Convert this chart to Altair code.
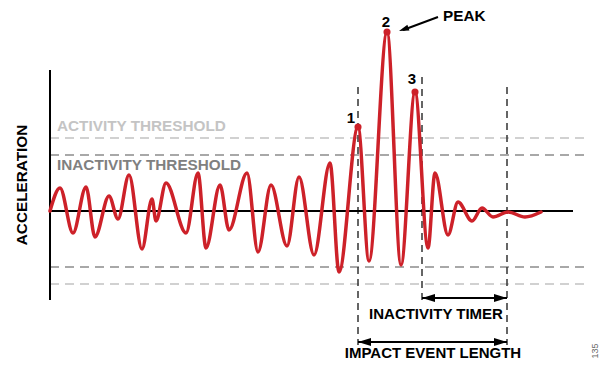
import altair as alt
import pandas as pd

# ---- waveform extrema (time, acceleration) ----
wave_t = [50, 60, 73, 86, 95, 109, 118, 129, 142, 152, 156, 166, 186, 198, 206, 220,
          229, 247, 258, 271, 287, 299, 314, 330, 339, 358, 369, 387, 401, 415, 428,
          435, 448, 458, 472, 482, 493, 508, 525, 541]
wave_a = [0, 23, -22, 24, -26, 15, -8, 36, -38, 12, -10, 28, -22, 38, -37, 26,
          -19, 38, -41, 26, -35, 34, -44, 48, -61, 84, -50, 179, -54, 119, -37,
          38, -24, 9, -10, 3, -6, -1, -6, -1]

# marked peaks
peak_t = [358, 387, 415]
peak_a = [84, 179, 119]
peak_lbl = ["1", "2", "3"]
peak_lbl_t = [351, 386, 412]
peak_lbl_a = [93, 189, 132]

# thresholds
act_thr = 73
inact_thr = 56
thr_start, thr_end = 50, 590

# axis extents
axis_t = 50
axis_top, axis_bottom = 141, -89
base_end = 573

# event markers
ev_t = [358, 422, 507]
ev_top = [124, 134, 124]
ev_bottom = [-134, -92, -134]

# arrows
timer_t = [422, 507]
timer_a = -87
impact_t = [358, 507]
impact_a = -131

RED = "#cd2129"
FONT = "Liberation Sans"

xs = alt.Scale(domain=[8, 600], nice=False, zero=False)
ys = alt.Scale(domain=[-150, 203], nice=False, zero=False)


def X(f, t="Q"):
    return alt.X(f"{f}:{t}", scale=xs, axis=None)


def Y(f, t="Q"):
    return alt.Y(f"{f}:{t}", scale=ys, axis=None)


# thresholds
thr = pd.DataFrame({
    "a": [act_thr, -act_thr, inact_thr, -inact_thr],
    "t1": [thr_start] * 4,
    "t2": [thr_end] * 4,
    "c": ["#c2c2c2", "#c2c2c2", "#8c8c8c", "#8c8c8c"],
})
thr_layer = alt.Chart(thr).mark_rule(strokeWidth=1.5, strokeDash=[9, 6]).encode(
    x=X("t1"), x2="t2", y=Y("a"), color=alt.Color("c:N", scale=None)
)

# axes
axis_df = pd.DataFrame({"t": [axis_t], "a1": [axis_top], "a2": [axis_bottom]})
axis_layer = alt.Chart(axis_df).mark_rule(strokeWidth=2, color="black").encode(
    x=X("t"), y=Y("a1"), y2="a2"
)
base_df = pd.DataFrame({"t1": [axis_t], "t2": [base_end], "a": [0]})
base_layer = alt.Chart(base_df).mark_rule(strokeWidth=2, color="black").encode(
    x=X("t1"), x2="t2", y=Y("a")
)

# event lines
ev_df = pd.DataFrame({"t": ev_t, "a1": ev_top, "a2": ev_bottom})
ev_layer = alt.Chart(ev_df).mark_rule(strokeWidth=1.5, color="#333333", strokeDash=[7, 5]).encode(
    x=X("t"), y=Y("a1"), y2="a2"
)

# waveform
wave_df = pd.DataFrame({"t": wave_t, "a": wave_a})
wave_layer = alt.Chart(wave_df).mark_line(
    color=RED, strokeWidth=3.5, interpolate="monotone", strokeCap="round"
).encode(x=X("t"), y=Y("a"))

peak_df = pd.DataFrame({"t": peak_t, "a": peak_a})
peak_layer = alt.Chart(peak_df).mark_point(
    filled=True, color=RED, size=50, opacity=1
).encode(x=X("t"), y=Y("a"))

peak_lbl_df = pd.DataFrame({"t": peak_lbl_t, "a": peak_lbl_a, "l": peak_lbl})
peak_lbl_layer = alt.Chart(peak_lbl_df).mark_text(
    font=FONT, fontSize=15, fontWeight="bold", color="black", baseline="middle", align="center"
).encode(x=X("t"), y=Y("a"), text="l:N")

# double arrows
arr_df = pd.DataFrame({
    "t1": [timer_t[0], impact_t[0]], "t2": [timer_t[1], impact_t[1]],
    "a": [timer_a, impact_a],
})
arr_layer = alt.Chart(arr_df).mark_rule(strokeWidth=2, color="black").encode(
    x=X("t1"), x2="t2", y=Y("a")
)
left_heads = alt.Chart(arr_df).mark_point(
    shape="M-1,0L1,-0.6L1,0.6Z", filled=True, color="black", size=169, opacity=1, xOffset=6.5
).encode(x=X("t1"), y=Y("a"))
right_heads = alt.Chart(arr_df).mark_point(
    shape="M1,0L-1,-0.6L-1,0.6Z", filled=True, color="black", size=169, opacity=1, xOffset=-6.5
).encode(x=X("t2"), y=Y("a"))

# PEAK pointer
peak_ptr = pd.DataFrame({"t1": [438], "a1": [194], "t2": [403], "a2": [181]})
ptr_line = alt.Chart(peak_ptr).mark_rule(strokeWidth=2, color="black").encode(
    x=X("t1"), y=Y("a1"), x2="t2", y2="a2"
)
ptr_tip = pd.DataFrame({"t": [399], "a": [180]})
ptr_head = alt.Chart(ptr_tip).mark_point(
    shape="M-1,0L1,-0.6L1,0.6Z", filled=True, color="black", size=100, opacity=1,
    angle=340, xOffset=4.7, yOffset=-1.7
).encode(x=X("t"), y=Y("a"))

# texts
left_txt = pd.DataFrame({
    "t": [57, 57, 443],
    "a": [85, 46, 195],
    "l": ["ACTIVITY THRESHOLD", "INACTIVITY THRESHOLD", "PEAK"],
    "c": ["#c4c4c4", "#808080", "black"],
})
left_txt_layer = alt.Chart(left_txt).mark_text(
    font=FONT, fontSize=15.3, fontWeight="bold", align="left", baseline="middle"
).encode(x=X("t"), y=Y("a"), text="l:N", color=alt.Color("c:N", scale=None))

ctr_txt = pd.DataFrame({
    "t": [436, 433],
    "a": [-103, -142],
    "l": ["INACTIVITY TIMER", "IMPACT EVENT LENGTH"],
})
ctr_txt_layer = alt.Chart(ctr_txt).mark_text(
    font=FONT, fontSize=15, fontWeight="bold", align="center", baseline="middle", color="black"
).encode(x=X("t"), y=Y("a"), text="l:N")

ylab = pd.DataFrame({"t": [22], "a": [26], "l": ["ACCELERATION"]})
ylab_layer = alt.Chart(ylab).mark_text(
    font=FONT, fontSize=15.3, fontWeight="bold", align="center", baseline="middle",
    color="black", angle=270
).encode(x=X("t"), y=Y("a"), text="l:N")

fig = pd.DataFrame({"t": [595], "a": [-140], "l": ["135"]})
fig_layer = alt.Chart(fig).mark_text(
    font=FONT, fontSize=9, align="center", baseline="middle", color="#666666", angle=270
).encode(x=X("t"), y=Y("a"), text="l:N")

chart = alt.layer(
    thr_layer, ev_layer, axis_layer, base_layer, wave_layer, peak_layer,
    arr_layer, left_heads, right_heads, ptr_line, ptr_head,
    peak_lbl_layer, left_txt_layer, ctr_txt_layer, ylab_layer, fig_layer,
).properties(
    width=592, height=353, padding=0, autosize="none"
).configure_view(stroke=None)

chart.save("out.html", embed_options={"renderer": "svg", "actions": False})
